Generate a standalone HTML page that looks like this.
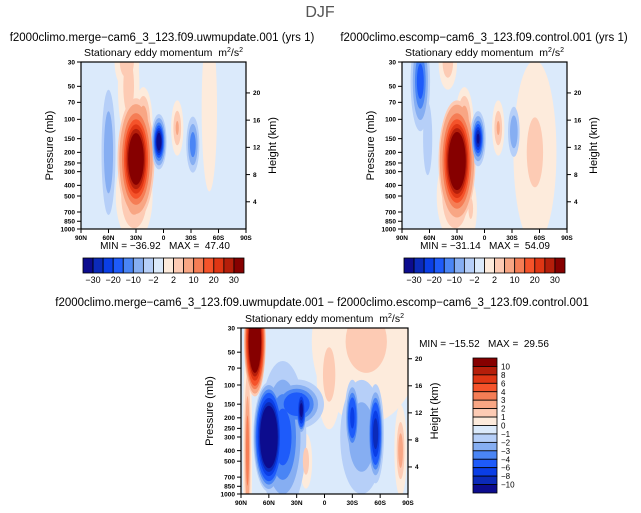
<!DOCTYPE html>
<html><head><meta charset="utf-8"><style>
html,body{margin:0;background:#fff;overflow:hidden;width:641px;height:513px;}
svg{display:block;font-family:"Liberation Sans",sans-serif;}
text{white-space:pre;}
</style></head><body>
<svg id="s" width="641" height="513" viewBox="0 0 641 513" xmlns="http://www.w3.org/2000/svg">
<text x="320" y="17" font-size="16" fill="#555" text-anchor="middle">DJF</text>
<text x="162" y="41" font-size="11.5" text-anchor="middle">f2000climo.merge−cam6_3_123.f09.uwmupdate.001 (yrs 1)</text>
<text x="484" y="41" font-size="11.5" text-anchor="middle">f2000climo.escomp−cam6_3_123.f09.control.001 (yrs 1)</text>
<text x="322" y="306" font-size="11.5" text-anchor="middle">f2000climo.merge−cam6_3_123.f09.uwmupdate.001 − f2000climo.escomp−cam6_3_123.f09.control.001</text>
</svg>
<script>
const NS='http://www.w3.org/2000/svg';
const svg=document.getElementById('s');
const colors=['#0c0c8e','#0b2ab9','#0a3ee6','#1e5bfa','#4a85f5','#86aef2','#b6cff8','#dbeafb','#fdebdc','#fdcbb4','#f8a684','#f57d55','#f5532a','#df3614','#b51e0a','#860000'];
const levelsTop=[-30,-25,-20,-15,-10,-5,-2,0,2,5,10,15,20,25,30];
const levelsDiff=[-10,-8,-6,-4,-3,-2,-1,0,1,2,3,4,6,8,10];
const pTicks=[30,50,70,100,150,200,250,300,400,500,700,850,1000];
const latTicks=[90,60,30,0,-30,-60,-90];
const latLabels=['90N','60N','30N','0','30S','60S','90S'];
const zTicks=[4,8,12,16,20];
// panel A blobs
const aLat=[30,5,60,-32,-15,40,-50,38,22,32];
const aP=[230,160,200,170,120,30,80,50,110,500];
const aDLat=[12,5,6,5,4,8,5,7,6,12];
const aDLogP=[0.33,0.15,0.45,0.18,0.15,0.15,0.45,0.3,0.2,0.25];
const aVal=[50,-40,-10,-15,6,5,1.8,4,10,8];
// panel B blobs
const bLat=[30,7,70,-32,-15,40,-55,15,22,62,32];
const bP=[240,150,45,130,120,30,200,650,110,150,500];
const bDLat=[12,5,7,5,4,6,14,4,6,6,12];
const bDLogP=[0.33,0.15,0.3,0.18,0.15,0.15,0.5,0.15,0.2,0.4,0.25];
const bVal=[57,-33,-20,-10,6,5,3,3,10,-4,8];
// difference blobs
const dLat=[75,83,60,45,25,30,-30,-55,-40,-5,-82,20,-45];
const dP=[40,400,300,300,170,150,200,280,300,80,400,500,40];
const dDLat=[7,3,10,20,4,22,6,6,22,8,4,4,35];
const dDLogP=[0.3,0.6,0.3,0.55,0.15,0.17,0.25,0.3,0.5,0.3,0.25,0.15,0.45];
const dVal=[25,4,-25,-5,-12,-6,-7,-10,-3,2,3,2,1.5];

function el(tag,attrs,parent){const e=document.createElementNS(NS,tag);for(const k in attrs)e.setAttribute(k,attrs[k]);(parent||svg).appendChild(e);return e;}
function txt(x,y,s,size,anchor,parent){const t=el('text',{x:x,y:y,'font-size':size,'text-anchor':anchor||'middle'},parent);t.textContent=s;return t;}

function panel(id,x0,y0,w,h,lat,p,dl,dp,val,levels,minmax,mmx,mmy){
  const g=el('g',{});
  
  
  const xs=l=>x0+(90-l)/180*w;
  const ys=pp=>y0+h*Math.log10(pp/30)/Math.log10(1000/30);
  const pxPerDeg=w/180, pxPerDec=h/Math.log10(1000/30);
  const cpath=el('clipPath',{id:'c'+id},g);
  el('rect',{x:x0,y:y0,width:w,height:h},cpath);
  const f=el('g',{'clip-path':'url(#c'+id+')'},g);
  
  
  el('rect',{x:x0,y:y0,width:w,height:h,fill:colors[7]},f);
  const ells=[];
  const colorOf=v=>{let i=0;while(i<levels.length&&levels[i]<v)i++;return colors[i];};
  for(let i=0;i<lat.length;i++){
    const V=val[i],s=Math.sign(V),A=Math.abs(V);
    levels.forEach(b=>{
      const bb=b*s; if(bb<0||bb>=A)return;
      const L=Math.max(bb,A*0.06);
      const r=Math.sqrt(Math.log(A/L));
      const c=s>0?colorOf(b+1e-6):colorOf(b-1e-6);
      ells.push({k:bb,cx:xs(lat[i]),cy:ys(p[i]),rx:r*dl[i]*pxPerDeg,ry:r*dp[i]*pxPerDec,c:c});
    });
  }
  ells.sort((a,b)=>a.k-b.k);
  ells.forEach(e=>{
    const m=el('ellipse',{cx:e.cx,cy:e.cy,rx:e.rx,ry:e.ry,fill:e.c},f);
    
    
  });
  el('rect',{x:x0,y:y0,width:w,height:h,fill:'none',stroke:'#000','stroke-width':1.2},g);
  const tt=txt(x0+w/2,y0-6,'',10.5,'middle',g);
  tt.innerHTML='Stationary eddy momentum  m<tspan font-size="7" dy="-4">2</tspan><tspan dy="4">/s</tspan><tspan font-size="7" dy="-4">2</tspan>';
  
  
  pTicks.forEach(pp=>{const y=ys(pp);el('line',{x1:x0-4,x2:x0,y1:y,y2:y,stroke:'#000'},g);const t=txt(x0-6,y+2.3,pp,6.5,'end',g);t.setAttribute('font-weight','bold');});
  latTicks.forEach((l,i)=>{const x=xs(l);el('line',{x1:x,x2:x,y1:y0+h,y2:y0+h+4,stroke:'#000'},g);const t=txt(x,y0+h+11,latLabels[i],6.5,'middle',g);t.setAttribute('font-weight','bold');});
  zTicks.forEach(z=>{const y=ys(1000*Math.exp(-z/7));el('line',{x1:x0+w,x2:x0+w+4,y1:y,y2:y,stroke:'#000'},g);const t=txt(x0+w+7,y+2.3,z,6.5,'start',g);t.setAttribute('font-weight','bold');});
  const yl=txt(0,0,'Pressure (mb)',11,'middle',g);yl.setAttribute('transform','translate('+(x0-28)+','+(y0+h/2)+') rotate(-90)');
  
  const yr=txt(0,0,'Height (km)',11,'middle',g);yr.setAttribute('transform','translate('+(x0+w+30)+','+(y0+h/2)+') rotate(-90)');
  
  const mm=txt(mmx,mmy,minmax,10,'middle',g);
  
}
panel('uwmupdate',81,62,165,167,aLat,aP,aDLat,aDLogP,aVal,levelsTop,'MIN = −36.92   MAX =  47.40',165,249);
panel('control',402,62,165,167,bLat,bP,bDLat,bDLogP,bVal,levelsTop,'MIN = −31.14   MAX =  54.09',485,249);
panel('difference',241,328,167,166,dLat,dP,dDLat,dDLogP,dVal,levelsDiff,'MIN = −15.52   MAX =  29.56',484,347);

function hbar(x0,id){
  const g=el('g',{});
  
  
  const bw=161/16;
  colors.forEach((c,i)=>el('rect',{x:x0+i*bw,y:258,width:bw,height:15,fill:c,stroke:'#000','stroke-width':0.8},g));
  const labs=['−30','−20','−10','−2','2','10','20','30'];
  labs.forEach((s,i)=>txt(x0+(2*i+1)*bw,283,s,9,'middle',g));
}
hbar(83,'left');hbar(404,'right');
(function(){
  const g=el('g',{});
  
  
  const bh=135/16;
  const labs=['10','8','6','4','3','2','1','0','−1','−2','−3','−4','−6','−8','−10'];
  for(let i=0;i<16;i++)el('rect',{x:473,y:358+i*bh,width:24,height:bh,fill:colors[15-i],stroke:'#000','stroke-width':0.8},g);
  labs.forEach((s,i)=>txt(501,358+(i+1)*bh+3,s,8,'start',g));
})();
</script>
</body></html>
